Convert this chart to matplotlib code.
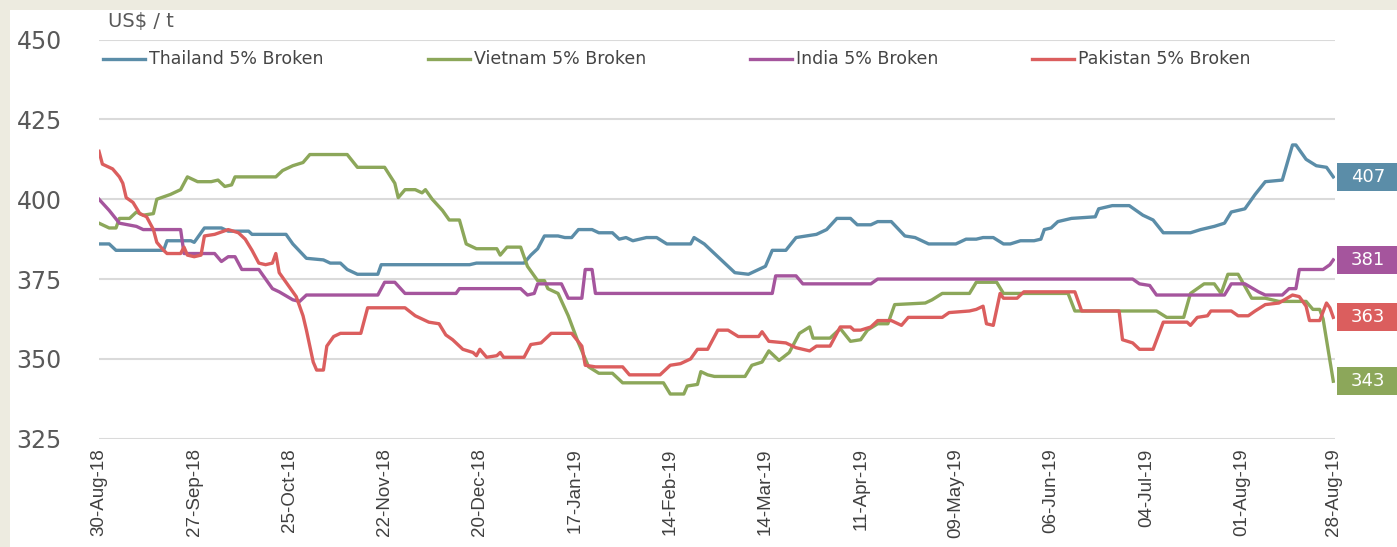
import numpy as np
import matplotlib
matplotlib.use("Agg")
import matplotlib.pyplot as plt
import matplotlib.dates as mdates
from matplotlib.lines import Line2D
from matplotlib.patches import Rectangle
from matplotlib.transforms import blended_transform_factory

# Rice export prices, 5% broken, US$/t  (x = days after 30-Aug-18)
start = np.datetime64("2018-08-30")

thai_days = [0, 3, 5, 19, 20, 27, 28, 31, 36, 38, 44, 45, 55, 57, 61, 66, 68, 71, 73, 76,
             82, 83, 109, 111, 125, 127, 129, 131, 135, 137, 139, 141, 145, 147, 151, 153,
             155, 157, 161, 164, 167, 174, 175, 178, 181, 184, 187, 191, 194, 196, 198,
             202, 205, 208, 211, 214, 217, 221, 223, 227, 229, 233, 237, 240, 244, 252,
             255, 258, 260, 263, 266, 268, 271, 275, 277, 278, 280, 282, 286, 293, 294,
             298, 303, 307, 310, 313, 321, 324, 328, 331, 333, 337, 340, 343, 348, 351,
             352, 355, 358, 361, 363]
thai_vals = [386, 386, 384, 384, 387, 387, 386.5, 391, 391, 390, 390, 389, 389, 386, 381.5,
             381, 380, 380, 378, 376.5, 376.5, 379.5, 379.5, 380, 380, 382.5, 384.5, 388.5,
             388.5, 388, 388, 390.5, 390.5, 389.5, 389.5, 387.5, 388, 387, 388, 388, 386,
             386, 388, 386, 383, 380, 377, 376.5, 378, 379, 384, 384, 388, 388.5, 389,
             390.5, 394, 394, 392, 392, 393, 393, 388.5, 388, 386, 386, 387.5, 387.5, 388,
             388, 386, 386, 387, 387, 387.5, 390.5, 391, 393, 394, 394.5, 397, 398, 398,
             395, 393.5, 389.5, 389.5, 390.5, 391.5, 392.5, 396, 397, 401.5, 405.5, 406,
             417, 417, 412.5, 410.5, 410, 407]

viet_days = [0, 3, 5, 6, 9, 11, 13, 16, 17, 21, 24, 26, 29, 33, 35, 37, 39, 40, 52, 54, 57,
             60, 62, 73, 76, 84, 87, 88, 90, 93, 95, 96, 98, 101, 103, 106, 108, 111, 117,
             118, 120, 124, 126, 129, 131, 132, 135, 138, 141, 144, 147, 151, 154, 166,
             168, 172, 173, 176, 177, 179, 181, 190, 192, 195, 197, 200, 203, 206, 209,
             210, 215, 218, 221, 224, 226, 229, 232, 234, 243, 245, 248, 256, 258, 264,
             266, 285, 287, 311, 314, 319, 321, 325, 328, 330, 332, 335, 339, 343, 347,
             355, 357, 359, 360, 363]
viet_vals = [392.5, 391, 391, 394, 394, 396, 395, 395.5, 400, 401.5, 403, 407, 405.5, 405.5,
             406, 404, 404.5, 407, 407, 409, 410.5, 411.5, 414, 414, 410, 410, 405, 400.5,
             403, 403, 402, 403, 400, 396.5, 393.5, 393.5, 386, 384.5, 384.5, 382.5, 385,
             385, 379, 374.5, 374.5, 372, 370.5, 363.5, 355, 347.5, 345.5, 345.5, 342.5,
             342.5, 339, 339, 341.5, 342, 346, 345, 344.5, 344.5, 348, 349, 352.5, 349.5,
             352, 358, 360, 356.5, 356.5, 359.5, 355.5, 356, 359, 361, 361, 367, 367.5,
             368.5, 370.5, 370.5, 374, 374, 370.5, 370.5, 365, 365, 363, 363, 370.5, 373.5,
             373.5, 370.5, 376.5, 376.5, 369, 369, 368, 368, 365.5, 365.5, 362.5, 343]

india_days = [0, 3, 6, 11, 13, 24, 25, 34, 36, 38, 40, 42, 47, 49, 51, 53, 57, 59, 61, 82,
              84, 87, 90, 105, 106, 124, 126, 128, 129, 136, 138, 142, 143, 145, 146, 198,
              199, 205, 207, 227, 229, 304, 306, 309, 311, 331, 333, 337, 341, 343, 348,
              350, 352, 353, 360, 362, 363]
india_vals = [400, 396.5, 392.5, 391.5, 390.5, 390.5, 383, 383, 380.5, 382, 382, 378, 378,
              375, 372, 371, 368.5, 368, 370, 370, 374, 374, 370.5, 370.5, 372, 372, 370,
              370.5, 373.5, 373.5, 369, 369, 378, 378, 370.5, 370.5, 376, 376, 373.5, 373.5,
              375, 375, 373.5, 373, 370, 370, 373.5, 373.5, 371, 370, 370, 372, 372, 378,
              378, 379.5, 381]

pak_days = [0, 1, 4, 6, 7, 8, 10, 12, 14, 16, 17, 19, 20, 24, 25, 26, 28, 30, 31, 34, 38,
            41, 43, 45, 47, 49, 51, 52, 53, 55, 58, 60, 61, 63, 64, 66, 67, 69, 71, 77, 79,
            90, 93, 97, 100, 102, 104, 107, 110, 111, 112, 114, 117, 118, 119, 125, 127,
            130, 133, 139, 142, 143, 146, 154, 156, 165, 168, 171, 174, 176, 179, 182, 185,
            188, 194, 195, 197, 202, 205, 209, 211, 215, 218, 221, 222, 224, 227, 229, 233,
            236, 238, 248, 250, 256, 258, 260, 261, 263, 265, 266, 270, 272, 287, 289, 300,
            301, 304, 306, 310, 313, 320, 321, 323, 326, 327, 333, 335, 338, 340, 343, 347,
            351, 353, 355, 356, 359, 361, 362, 363]
pak_vals = [415, 411, 409.5, 407, 405, 400.5, 399, 395.5, 394.5, 390.5, 386.5, 384, 383, 383,
            385, 382.5, 382, 382.5, 388.5, 389, 390.5, 389.5, 387.5, 384, 380, 379.5, 380,
            383, 377, 374, 369.5, 363.5, 359, 349, 346.5, 346.5, 354, 357, 358, 358, 366,
            366, 363.5, 361.5, 361, 357.5, 356, 353, 352, 351, 353, 350.5, 351, 352, 350.5,
            350.5, 354.5, 355, 358, 358, 354, 348, 347.5, 347.5, 345, 345, 348, 348.5, 350,
            353, 353, 359, 359, 357, 357, 358.5, 355.5, 355, 353.5, 352.5, 354, 354, 360,
            360, 359, 359, 360, 362, 362, 360.5, 363, 363, 364.5, 365, 365.5, 366.5, 361,
            360.5, 370.5, 369, 369, 371, 371, 365, 365, 356, 355, 353, 353, 361.5, 361.5,
            360.5, 363, 363.5, 365, 365, 363.5, 363.5, 365, 367, 367.5, 370, 369.5, 366.5,
            362, 362, 367.5, 366, 363]

names = ["Thailand 5% Broken", "Vietnam 5% Broken", "India 5% Broken", "Pakistan 5% Broken"]
colors = ["#5B8DA8", "#8CA75A", "#A5559D", "#DB5E5E"]
series = [(thai_days, thai_vals), (viet_days, viet_vals),
          (india_days, india_vals), (pak_days, pak_vals)]
end_labels = [407, 343, 381, 363]

tick_dates = ["2018-08-30", "2018-09-27", "2018-10-25", "2018-11-22", "2018-12-20",
              "2019-01-17", "2019-02-14", "2019-03-14", "2019-04-11", "2019-05-09",
              "2019-06-06", "2019-07-04", "2019-08-01", "2019-08-28"]
y_ticks = [325, 350, 375, 400, 425, 450]

W, H = 1397, 547
fig = plt.figure(figsize=(W / 100, H / 100), dpi=100)
fig.patch.set_facecolor("#EDEBE0")
fig.add_artist(Rectangle((10 / W, 0), 1 - 10 / W, 1 - 10 / H, transform=fig.transFigure,
                         facecolor="white", edgecolor="none", zorder=0))

ax = fig.add_axes([99 / W, (H - 438.7) / H, 1236 / W, (438.7 - 39.6) / H])
ax.set_facecolor("none")

for (d, v), c in zip(series, colors):
    x = start + np.array(d, dtype="timedelta64[D]")
    ax.plot(x, v, color=c, lw=2.4, solid_joinstyle="round", zorder=3)

x0 = mdates.date2num(start)
ax.set_xlim(x0, x0 + 363.5)
ax.set_ylim(325, 450)
ax.set_yticks(y_ticks)
ax.set_xticks([np.datetime64(t) for t in tick_dates])
ax.xaxis.set_major_formatter(mdates.DateFormatter("%d-%b-%y"))
ax.yaxis.grid(True, color="#DADADA", lw=1.5)
ax.set_axisbelow(True)
for s in ax.spines.values():
    s.set_visible(False)
ax.tick_params(axis="both", length=0)
ax.tick_params(axis="y", pad=43, labelsize=17, labelcolor="#595959")
for lab in ax.get_yticklabels():
    lab.set_horizontalalignment("center")
ax.tick_params(axis="x", pad=7, labelsize=13.5, labelcolor="#404040", rotation=90)
for lab in ax.get_xticklabels():
    lab.set_fontfamily("Liberation Sans")
    lab.set_verticalalignment("top")

# value boxes at the right end
trans = blended_transform_factory(ax.transAxes, ax.transData)
bx = (1337 - 99) / 1236
bw = 62 / 1236
for (d, v), c, lab in zip(series, colors, end_labels):
    ax.add_patch(Rectangle((bx, lab - 4.4), bw, 8.8, transform=trans, facecolor=c,
                           edgecolor="none", clip_on=False, zorder=4))
    ax.text(bx + bw / 2, lab, str(lab), transform=trans, ha="center", va="center",
            color="white", fontsize=13, zorder=5, clip_on=False)

# legend row
ly = 1 - 59 / H
handle_x = [103, 428, 750, 1032]
for hx, c, name in zip(handle_x, colors, names):
    fig.add_artist(Line2D([hx / W, (hx + 42) / W], [ly, ly], transform=fig.transFigure,
                          color=c, lw=2.4))
    fig.text((hx + 46) / W, ly, name, ha="left", va="center", fontsize=12.5,
             color="#454545")

fig.text(108 / W, 1 - 22 / H, "US$ / t", ha="left", va="center", fontsize=14,
         color="#595959")

fig.savefig("out.png", dpi=100, facecolor=fig.get_facecolor())
